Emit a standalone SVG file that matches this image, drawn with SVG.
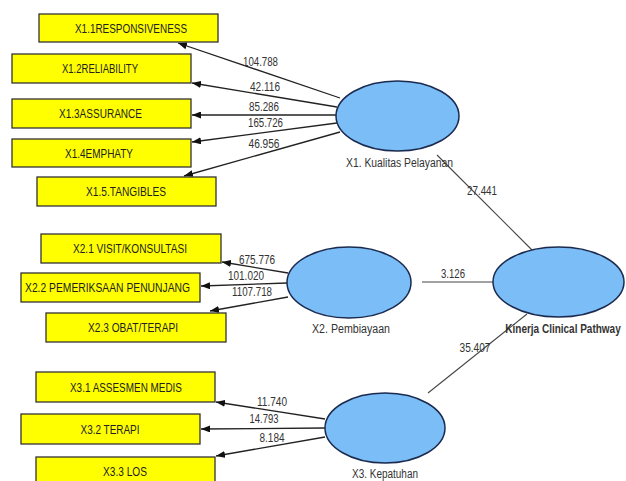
<svg xmlns="http://www.w3.org/2000/svg" width="626" height="481" viewBox="0 0 626 481">
  <defs>
    <marker id="arrow" markerUnits="userSpaceOnUse" markerWidth="10" markerHeight="7" refX="9" refY="3.5" orient="auto">
      <path d="M0,0 L9,3.5 L0,7 z" fill="#111"/>
    </marker>
    <style>
      .box { fill: #ffff00; stroke: #333; stroke-width: 1.3; }
      .lv { fill: #7bbdf6; stroke: #1b2b4f; stroke-width: 1.5; }
      .bl { font-family: "Liberation Sans", Arial, sans-serif; font-size: 13px; fill: #222; text-anchor: middle; }
      .nl { font-family: "Liberation Sans", Arial, sans-serif; font-size: 12.5px; fill: #333; text-anchor: middle; }
      .wt { font-family: "Liberation Sans", Arial, sans-serif; font-size: 12px; fill: #333; text-anchor: middle; }
      .ld { stroke: #222; stroke-width: 1.3; fill: none; marker-end: url(#arrow); }
      .path { stroke: #444; stroke-width: 1.1; fill: none; }
    </style>
  </defs>
  <rect width="626" height="481" fill="#fff"/>

  <!-- connectors: loadings (latent -> indicator) and inner paths -->
  <g id="connectors">
    <line class="ld" x1="340" y1="98" x2="178" y2="43"/>
    <line class="ld" x1="337" y1="107" x2="192" y2="83"/>
    <line class="ld" x1="336" y1="115" x2="192" y2="115"/>
    <line class="ld" x1="337" y1="123" x2="192" y2="142"/>
    <line class="ld" x1="340" y1="132" x2="184" y2="176"/>

    <line class="ld" x1="288" y1="273" x2="222" y2="262"/>
    <line class="ld" x1="287" y1="283" x2="201" y2="286"/>
    <line class="ld" x1="288" y1="297" x2="210" y2="311"/>

    <line class="ld" x1="325" y1="419" x2="216" y2="402"/>
    <line class="ld" x1="325" y1="428" x2="201" y2="429"/>
    <line class="ld" x1="325" y1="437" x2="216" y2="456"/>

    <line class="path" x1="437" y1="155" x2="532" y2="250"/>
    <line class="path" x1="422" y1="282" x2="493" y2="282" stroke="#111"/>
    <line class="path" x1="428" y1="393" x2="527" y2="314"/>

    <text class="wt" x="260.5" y="66.3" textLength="35" lengthAdjust="spacingAndGlyphs">104.788</text>
    <text class="wt" x="265" y="91.3" textLength="30" lengthAdjust="spacingAndGlyphs">42.116</text>
    <text class="wt" x="264" y="111.3" textLength="30" lengthAdjust="spacingAndGlyphs">85.286</text>
    <text class="wt" x="265.5" y="127.3" textLength="35" lengthAdjust="spacingAndGlyphs">165.726</text>
    <text class="wt" x="264" y="148.3" textLength="31" lengthAdjust="spacingAndGlyphs">46.956</text>

    <text class="wt" x="257" y="264.3" textLength="36" lengthAdjust="spacingAndGlyphs">675.776</text>
    <text class="wt" x="246" y="280.3" textLength="36" lengthAdjust="spacingAndGlyphs">101.020</text>
    <text class="wt" x="252" y="296.3" textLength="40" lengthAdjust="spacingAndGlyphs">1107.718</text>

    <text class="wt" x="272" y="406.3" textLength="30" lengthAdjust="spacingAndGlyphs">11.740</text>
    <text class="wt" x="264" y="423.3" textLength="29" lengthAdjust="spacingAndGlyphs">14.793</text>
    <text class="wt" x="272" y="442.3" textLength="25" lengthAdjust="spacingAndGlyphs">8.184</text>

    <text class="wt" x="482" y="195.3" textLength="30" lengthAdjust="spacingAndGlyphs">27.441</text>
    <text class="wt" x="453" y="278.3" textLength="24" lengthAdjust="spacingAndGlyphs">3.126</text>
    <text class="wt" x="475" y="352.3" textLength="31" lengthAdjust="spacingAndGlyphs">35.407</text>
  </g>

  <!-- indicators of X1 -->
  <g id="x1_1"><rect class="box" x="39" y="14" width="179" height="28"/><text class="bl" x="131" y="32.6" textLength="112" lengthAdjust="spacingAndGlyphs">X1.1RESPONSIVENESS</text></g>
  <g id="x1_2"><rect class="box" x="12" y="54" width="179" height="29"/><text class="bl" x="100" y="73.1" textLength="76" lengthAdjust="spacingAndGlyphs">X1.2RELIABILITY</text></g>
  <g id="x1_3"><rect class="box" x="12" y="99" width="179" height="29"/><text class="bl" x="100.5" y="118.1" textLength="83" lengthAdjust="spacingAndGlyphs">X1.3ASSURANCE</text></g>
  <g id="x1_4"><rect class="box" x="12" y="139" width="179" height="28"/><text class="bl" x="99" y="157.6" textLength="68" lengthAdjust="spacingAndGlyphs">X1.4EMPHATY</text></g>
  <g id="x1_5"><rect class="box" x="37" y="177" width="179" height="29"/><text class="bl" x="126" y="196.1" textLength="80" lengthAdjust="spacingAndGlyphs">X1.5.TANGIBLES</text></g>

  <!-- indicators of X2 -->
  <g id="x2_1"><rect class="box" x="41" y="234" width="180" height="29"/><text class="bl" x="130" y="253.1" textLength="114" lengthAdjust="spacingAndGlyphs">X2.1 VISIT/KONSULTASI</text></g>
  <g id="x2_2"><rect class="box" x="21" y="273" width="179" height="29"/><text class="bl" x="107.5" y="292.1" textLength="165" lengthAdjust="spacingAndGlyphs">X2.2 PEMERIKSAAN PENUNJANG</text></g>
  <g id="x2_3"><rect class="box" x="46" y="313" width="180" height="29"/><text class="bl" x="133" y="332.1" textLength="90" lengthAdjust="spacingAndGlyphs">X2.3 OBAT/TERAPI</text></g>

  <!-- indicators of X3 -->
  <g id="x3_1"><rect class="box" x="36" y="372" width="179" height="30"/><text class="bl" x="126" y="391.6" textLength="112" lengthAdjust="spacingAndGlyphs">X3.1 ASSESMEN MEDIS</text></g>
  <g id="x3_2"><rect class="box" x="21" y="414" width="179" height="30"/><text class="bl" x="110" y="433.6" textLength="59" lengthAdjust="spacingAndGlyphs">X3.2 TERAPI</text></g>
  <g id="x3_3"><rect class="box" x="36" y="457" width="179" height="30"/><text class="bl" x="125" y="475.6" textLength="44" lengthAdjust="spacingAndGlyphs">X3.3 LOS</text></g>

  <!-- latent variables -->
  <g id="x1">
    <ellipse class="lv" cx="397.5" cy="116" rx="61.5" ry="35"/>
    <text class="nl" x="399.5" y="166.5" textLength="107" lengthAdjust="spacingAndGlyphs">X1. Kualitas Pelayanan</text>
  </g>
  <g id="x2">
    <ellipse class="lv" cx="349" cy="282.5" rx="62" ry="35.5"/>
    <text class="nl" x="351" y="332.5" textLength="78" lengthAdjust="spacingAndGlyphs">X2. Pembiayaan</text>
  </g>
  <g id="x3">
    <ellipse class="lv" cx="385" cy="428" rx="60" ry="35"/>
    <text class="nl" x="385" y="478" textLength="66" lengthAdjust="spacingAndGlyphs">X3. Kepatuhan</text>
  </g>
  <g id="kinerja">
    <ellipse class="lv" cx="558.5" cy="282" rx="65.5" ry="35"/>
    <text class="nl" transform="translate(563 332.5) scale(0.8 1)" x="0" y="0" font-weight="bold" fill="#222">Kinerja Clinical Pathway</text>
  </g>
</svg>
